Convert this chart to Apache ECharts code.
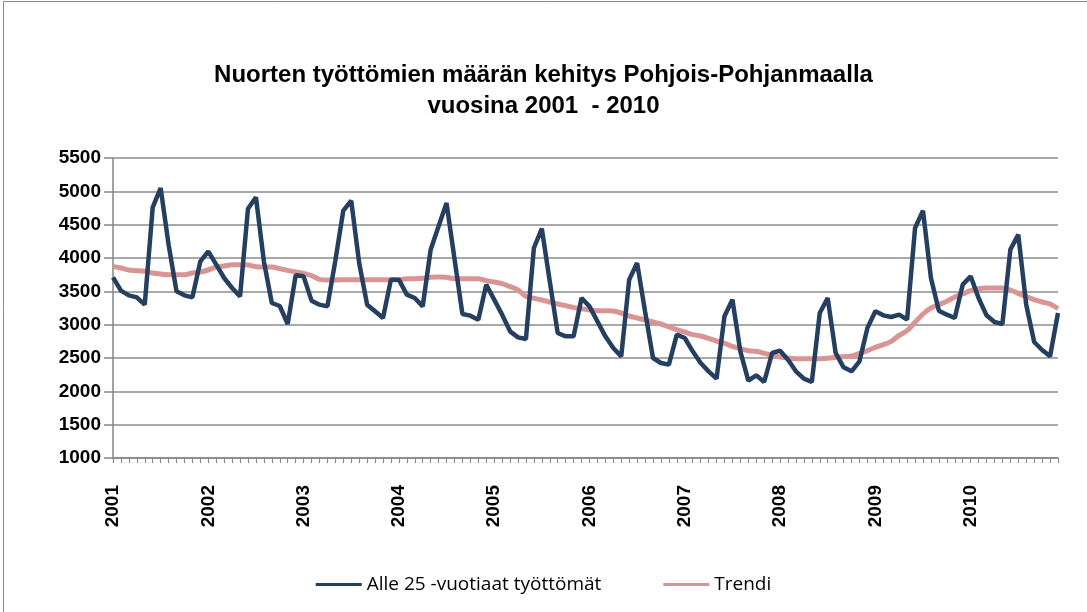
<!DOCTYPE html>
<html><head><meta charset="utf-8">
<script src="https://cdn.jsdelivr.net/npm/echarts@6/dist/echarts.min.js"></script>
<style>html,body{margin:0;padding:0;background:#fff}#c{width:1087px;height:612px}</style>
</head><body><div id="c"></div>
<script>
const years = ['2001','2002','2003','2004','2005','2006','2007','2008','2009','2010'];
const monthNums = ['01','02','03','04','05','06','07','08','09','10','11','12'];
const yTicks = [1000,1500,2000,2500,3000,3500,4000,4500,5000,5500];
const seriesNames = ['Alle 25 -vuotiaat työttömät','Trendi'];
const youthUnemployed = [
 3710,3510,3440,3410,3300,4760,5050,4200,3500,3440,3410,3950,
 4100,3900,3700,3550,3425,4740,4910,3950,3325,3280,3010,3740,
 3725,3360,3300,3275,3960,4710,4860,3925,3300,3200,3100,3675,
 3675,3450,3400,3275,4125,4475,4825,3990,3160,3135,3075,3600,
 3375,3150,2900,2810,2785,4150,4440,3650,2875,2825,2825,3400,
 3275,3050,2825,2650,2525,3675,3925,3200,2500,2425,2400,2850,
 2800,2600,2425,2300,2190,3125,3375,2600,2160,2240,2140,2575,
 2610,2475,2300,2190,2140,3175,3400,2575,2360,2300,2450,2950,
 3200,3140,3115,3150,3075,4450,4710,3700,3210,3150,3100,3600,
 3725,3400,3140,3040,3010,4125,4350,3300,2740,2620,2525,3175
];
const trend = [
 3875,3850,3820,3810,3800,3775,3760,3750,3750,3750,3775,3790,
 3820,3865,3880,3900,3900,3895,3870,3865,3865,3840,3815,3790,
 3770,3735,3680,3670,3670,3675,3675,3675,3675,3675,3675,3675,
 3675,3690,3690,3695,3710,3715,3710,3690,3690,3690,3690,3660,
 3640,3615,3570,3520,3425,3395,3370,3340,3310,3285,3260,3240,
 3220,3210,3210,3205,3175,3130,3100,3070,3040,3010,2965,2925,
 2890,2850,2830,2795,2755,2720,2675,2640,2610,2600,2570,2540,
 2515,2500,2490,2490,2490,2490,2495,2510,2520,2530,2570,2610,
 2660,2700,2750,2840,2910,3035,3160,3250,3300,3350,3415,3460,
 3510,3540,3550,3550,3550,3520,3470,3420,3375,3340,3310,3240
];
const categories = [];
years.forEach(y => monthNums.forEach(m => categories.push(y + '-' + m)));

const chart = echarts.init(document.getElementById('c'), null, {renderer:'canvas'});
const font = '"Liberation Sans",Arial,sans-serif';
chart.setOption({
  backgroundColor:'#ffffff',
  animation:false,
  title:{
    text:'Nuorten työttömien määrän kehitys Pohjois-Pohjanmaalla\nvuosina 2001  - 2010',
    left:'center', top:55,
    textStyle:{fontFamily:font, fontWeight:'bold', fontSize:24, color:'#000', lineHeight:31}
  },
  graphic:[{type:'rect', shape:{x:3.5,y:1.5,width:1090,height:620}, style:{fill:'none', stroke:'#8a8a8a', lineWidth:1}}],
  legend:{
    bottom:13, left:'center', itemGap:62, itemWidth:46, itemHeight:10,
    icon:'path://M0,4 L46,4 L46,7 L0,7 Z',
    textStyle:{fontFamily:'"Open Sans",Arial,sans-serif', fontSize:19, color:'#000'},
    data:seriesNames
  },
  grid:{left:113, right:29, top:158, bottom:154, containLabel:false},
  xAxis:{
    type:'category', data:categories, boundaryGap:false,
    axisLine:{lineStyle:{color:'#868686', width:1.5}},
    axisTick:{interval:0, length:5, lineStyle:{color:'#868686'}},
    axisLabel:{
      interval:0, rotate:90, margin:27,
      fontFamily:font, fontWeight:'bold', fontSize:19, color:'#000',
      formatter:(v)=> v.endsWith('-01') ? v.slice(0,4) : ''
    },
    splitLine:{show:false}
  },
  yAxis:{
    type:'value', min:yTicks[0], max:yTicks[yTicks.length-1], interval:500,
    axisLine:{show:true, lineStyle:{color:'#868686', width:1.5}},
    axisTick:{show:true, length:9, lineStyle:{color:'#868686', width:1.5}},
    axisLabel:{fontFamily:font, fontWeight:'bold', fontSize:19, color:'#000', margin:12,
      formatter:(v)=> String(v)},
    splitLine:{lineStyle:{color:'#8c8c8c', width:1.5}}
  },
  series:[
    {name:seriesNames[0], type:'line', data:youthUnemployed, symbol:'none',
     lineStyle:{color:'#243f60', width:4.5}, itemStyle:{color:'#243f60'}, z:3},
    {name:seriesNames[1], type:'line', data:trend, symbol:'none', smooth:0.3,
     lineStyle:{color:'#d99594', width:5}, itemStyle:{color:'#d99594'}, z:2}
  ]
});
</script></body></html>
